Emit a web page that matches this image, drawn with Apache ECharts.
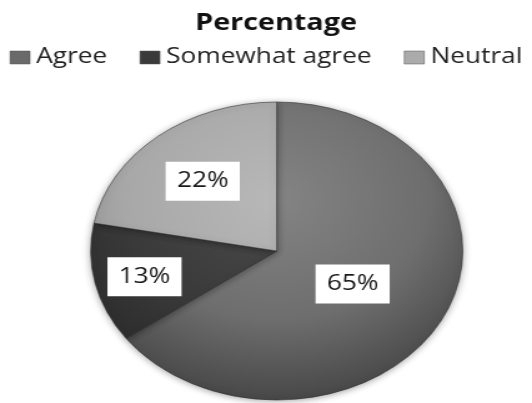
<!DOCTYPE html>
<html>
<head>
<meta charset="utf-8">
<script src="https://cdn.jsdelivr.net/npm/echarts@6/dist/echarts.min.js"></script>
<style>
  html, body { margin: 0; padding: 0; background: #fff; overflow: hidden; }
  /* the chart is drawn on a narrower canvas and stretched horizontally */
  #chart { width: 426px; height: 403px; transform: scaleX(1.2488); transform-origin: 0 0; }
</style>
</head>
<body>
<div id="chart"></div>
<script>
// Survey responses (percent)
const categories = ['Agree', 'Somewhat agree', 'Neutral'];
const percentages = [65, 13, 22];

// Layout (canvas pixels, before the horizontal stretch)
const CX = 221.6, CY = 251, R = 149;
// label placement as a fraction of the radius, per slice
const LABEL_RADIUS = [0.44, 0.70, 0.60];

// grayscale palette
const flatColors = ['#6a6a6a', '#3a3a3a', '#ababab'];
const shadeStops = [
  ['#848484', '#6e6e6e', '#484848'],
  ['#4c4c4c', '#3a3a3a', '#2a2a2a'],
  ['#b8b8b8', '#a8a8a8', '#8c8c8c']
];

function shade(i) {
  const s = shadeStops[i];
  return {
    type: 'radial', global: true,
    x: CX, y: CY - 0.35 * R, r: 1.35 * R,
    colorStops: [
      { offset: 0, color: s[0] },
      { offset: 0.6, color: s[1] },
      { offset: 1, color: s[2] }
    ]
  };
}

const chart = echarts.init(document.getElementById('chart'));
chart.setOption({
  backgroundColor: '#fff',
  animation: false,
  title: {
    text: 'Percentage',
    left: 216,
    top: 7,
    textAlign: 'center',
    textStyle: { fontFamily: 'Open Sans', fontWeight: 700, fontSize: 23, color: '#111' }
  },
  legend: {
    left: 'center',
    top: 42,
    itemWidth: 16,
    itemHeight: 13,
    itemGap: 26,
    icon: 'rect',
    textStyle: { fontFamily: 'Open Sans', fontSize: 21, color: '#222' },
    data: categories.map((name, i) => ({
      name: name,
      itemStyle: { color: flatColors[i], borderColor: '#555', borderWidth: 0.5 }
    }))
  },
  series: [{
    type: 'pie',
    center: [CX, CY],
    radius: [0, R],
    startAngle: 90,
    clockwise: true,
    silent: true,
    itemStyle: {
      borderColor: 'rgba(45,45,45,0.55)',
      borderWidth: 1,
      shadowBlur: 6,
      shadowColor: 'rgba(0,0,0,0.35)',
      shadowOffsetY: 1
    },
    label: {
      show: true,
      position: 'inside',
      formatter: '{c}%',
      fontFamily: 'Open Sans',
      fontSize: 21,
      color: '#1a1a1a',
      backgroundColor: '#fff',
      padding: [9, 9, 9, 9]
    },
    labelLine: { show: false },
    labelLayout: function (p) {
      const r = p.labelRect;
      const lx = r.x + r.width / 2, ly = r.y + r.height / 2;
      const f = LABEL_RADIUS[p.dataIndex] / 0.5 - 1;
      return { dx: (lx - CX) * f, dy: (ly - CY) * f + 2 };
    },
    data: categories.map((name, i) => ({
      name: name,
      value: percentages[i],
      itemStyle: { color: shade(i) }
    }))
  }]
});
</script>
</body>
</html>
